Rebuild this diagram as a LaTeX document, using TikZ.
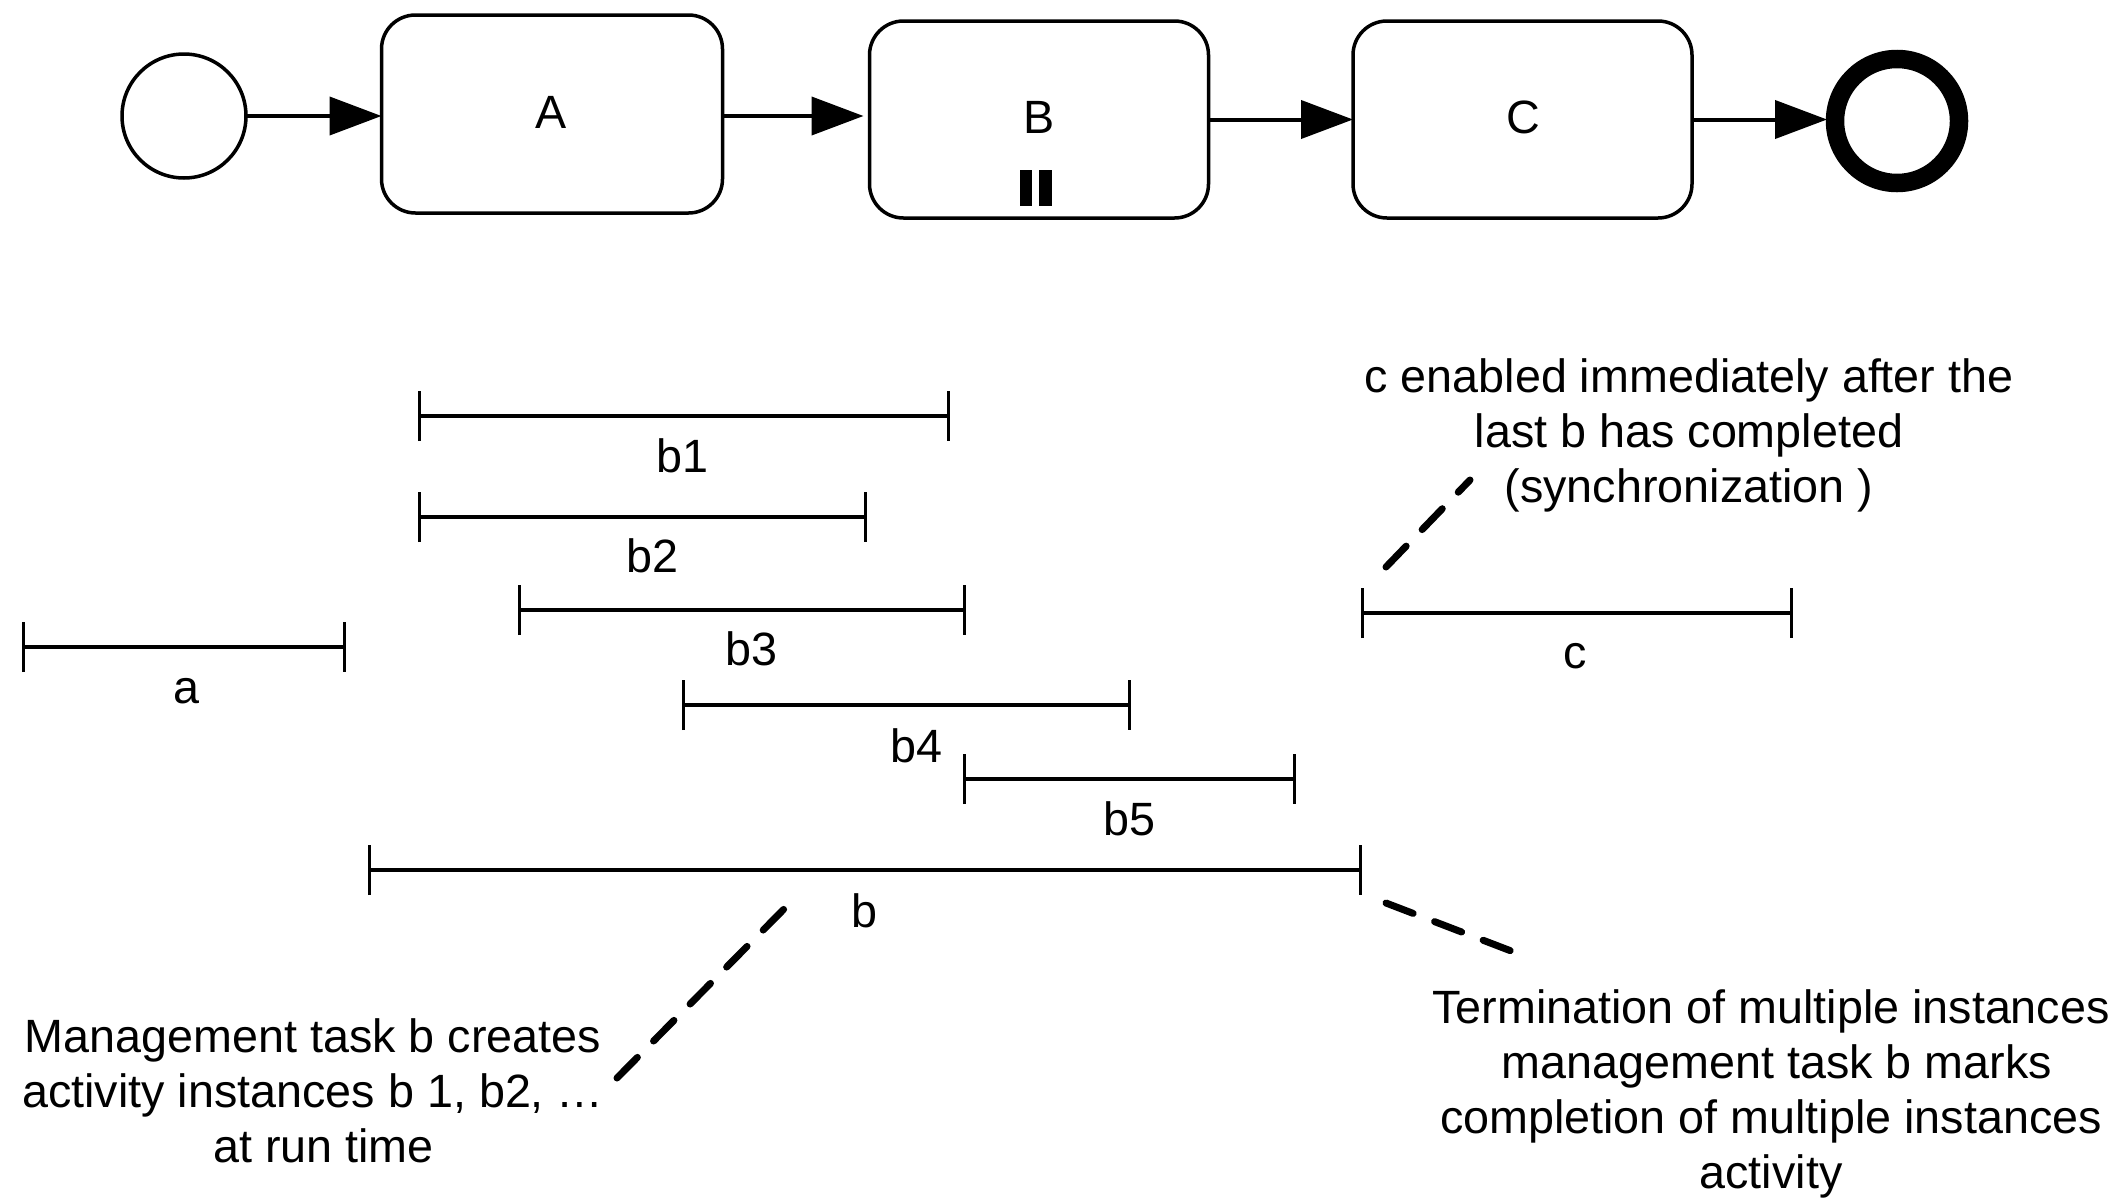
\documentclass[tikz,border=0pt]{standalone}
\usepackage{fontspec}
\setmainfont{Liberation Sans}
\usetikzlibrary{arrows.meta}
\tikzset{
  every node/.style={font=\fontsize{46.7}{55}\selectfont, inner sep=0pt, outer sep=0pt},
  task/.style={draw, line width=3.5pt, rounded corners=34pt, fill=white, minimum width=339pt, minimum height=197pt},
  startev/.style={draw, circle, line width=3.5pt, minimum size=124pt},
  endev/.style={draw, circle, line width=18.5pt, minimum size=124pt},
  flow/.style={line width=4pt, -{Triangle[length=52pt,width=38pt]}},
  span/.style={line width=4pt, shorten <=-1.5pt, shorten >=-1.5pt, {Bar[width=50pt,line width=3pt]}-{Bar[width=50pt,line width=3pt]}},
  lbl/.style={anchor=base},
  note/.style={align=center, anchor=center},
  dashlink/.style={line width=7pt, line cap=round, dash pattern=on 29pt off 23pt},
}
\begin{document}
\begin{tikzpicture}[x=1pt,y=-1pt]
\useasboundingbox (0,0) rectangle (2118,1197);
\node[startev] (start) at (184,116) {};
\node[task,minimum width=341pt,minimum height=198pt] (A) at (552,114) {};
\node[task] (B) at (1039,119.5) {};
\node[task] (C) at (1522.5,119.5) {};
\node[endev] (end) at (1897,121) {};
\node[lbl] (tA) at (551,128) {A};
\node[lbl] (tB) at (1039,133) {B};
\node[lbl] (tC) at (1523,133) {C};
\fill (1020,170) rectangle (1032,206);
\fill (1039,170) rectangle (1052,206);
\draw[flow] (start.east) -- (start.east -| A.west);
\draw[flow] (start.east -| A.east) -- ([xshift=-6pt]start.east -| B.west);
\draw[flow] (B.east) -- (C.west);
\draw[flow] (C.east) -- ([xshift=-8pt]C.east -| end.west);
% time spans
\coordinate (a1) at (23,647);   \coordinate (a2) at (344,647);
\coordinate (b1a) at (419,416); \coordinate (b1b) at (948,416);
\coordinate (b2a) at (419,517); \coordinate (b2b) at (865,517);
\coordinate (b3a) at (519,610); \coordinate (b3b) at (964,610);
\coordinate (b4a) at (683,705); \coordinate (b4b) at (1129,705);
\coordinate (b5a) at (964,779); \coordinate (b5b) at (1294,779);
\coordinate (ba) at (369,870);  \coordinate (bb) at (1360,870);
\coordinate (c1) at (1362,613); \coordinate (c2) at (1791,613);
\draw[span] (a1) -- (a2);
\draw[span] (b1a) -- (b1b);
\draw[span] (b2a) -- (b2b);
\draw[span] (b3a) -- (b3b);
\draw[span] (b4a) -- (b4b);
\draw[span] (b5a) -- (b5b);
\draw[span] (ba) -- (bb);
\draw[span] (c1) -- (c2);
\node[lbl] (la) at (186,703) {a};
\node[lbl] (lb1) at (682,472) {b1};
\node[lbl] (lb2) at (652,572) {b2};
\node[lbl] (lb3) at (751,665) {b3};
\node[lbl] (lb4) at (916,762) {b4};
\node[lbl] (lb5) at (1129,835) {b5};
\node[lbl] (lb) at (864,927) {b};
\node[lbl] (lc) at (1575,668) {c};
% notes
\node[note] (n1) at (1689,435) {c enabled immediately after the\\last b has completed\\(synchronization )};
\node[note] (n2) at (313,1091) {Management task b creates\\activity instances b 1, b2, …\\\hspace*{21pt}at run time};
\node[note] (n3) at (1771,1094) {Termination of multiple instances\\\hspace*{12pt}management task b marks\\completion of multiple instances\\activity};
\coordinate (d1a) at (1386,567); \coordinate (d1b) at (1470,480);
\coordinate (d2a) at (617,1078); \coordinate (d2b) at (784,909);
\coordinate (d3a) at (1386,903); \coordinate (d3b) at (1519,954);
\draw[dashlink] (d1a) -- (d1b);
\draw[dashlink] (d2a) -- (d2b);
\draw[dashlink] (d3a) -- (d3b);
\end{tikzpicture}
\end{document}
